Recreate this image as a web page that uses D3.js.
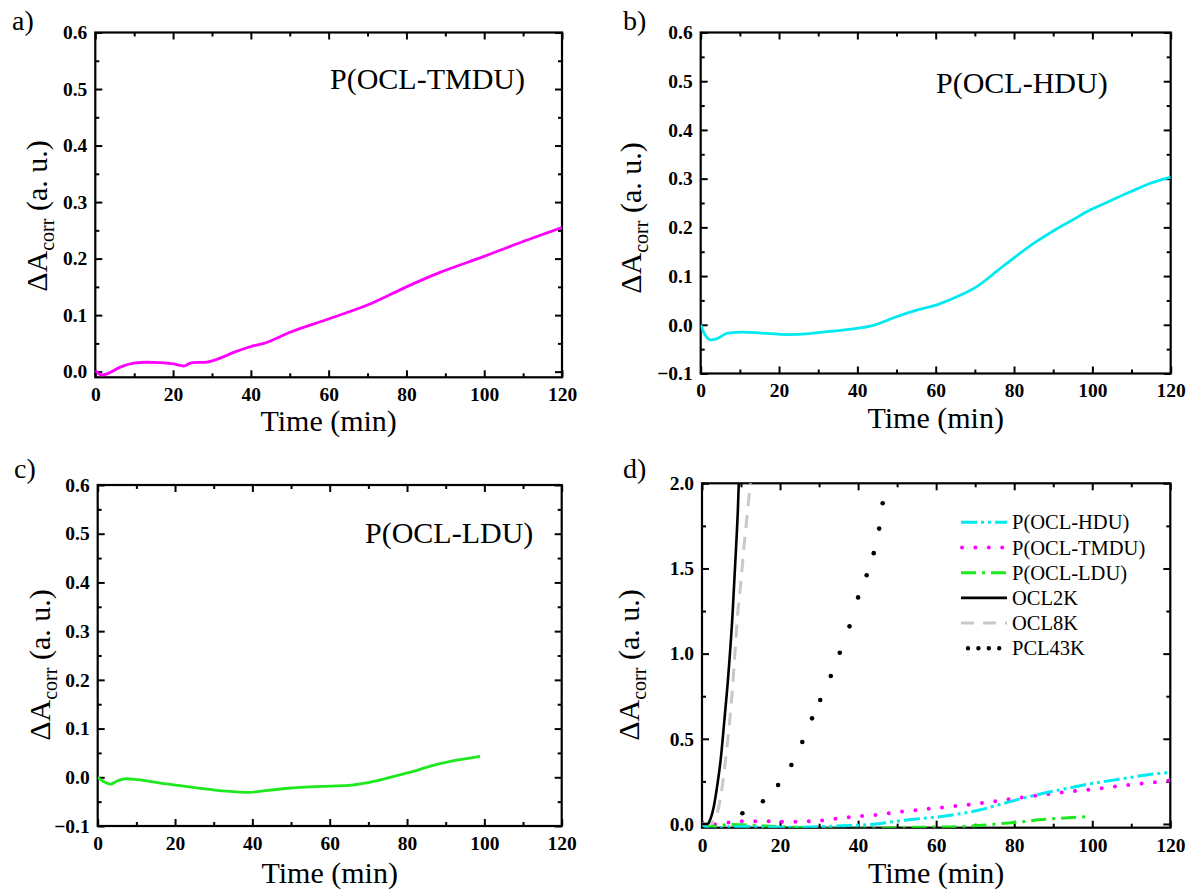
<!DOCTYPE html>
<html>
<head>
<meta charset="utf-8">
<script src="https://cdn.jsdelivr.net/npm/d3@7"></script>
<style>
  html, body { margin: 0; padding: 0; background: #fff; }
  svg { display: block; }
  text { font-family: "Liberation Serif", "Times New Roman", serif; fill: #000; }
  .tick text { font-family: "Liberation Serif", "Times New Roman", serif; font-weight: 700; font-size: 19.5px; fill: #000; }
  .tick line { stroke: #000; stroke-width: 2; }
</style>
</head>
<body>
<svg id="fig" width="1188" height="890"></svg>
<script>
// ---- degradation kinetics: time (min) and corrected absorbance change (a. u.) ----
const timeTMDU = [0, 1.7, 3.0, 6.4, 9.9, 13.3, 16.7, 20.1, 22.7, 24.9, 28.7, 32.1, 35.6, 39.8, 43.3, 50.4, 60.3, 71.1, 80.0, 88.8, 99.6, 109.5, 120];
const dATMDU   = [0.002, -0.006, -0.004, 0.008, 0.015, 0.0166, 0.016, 0.0136, 0.010, 0.016, 0.017, 0.024, 0.034, 0.044, 0.050, 0.0707, 0.094, 0.121, 0.150, 0.176, 0.203, 0.229, 0.255];

const timeHDU = [0, 1.1, 2.6, 4.0, 6.9, 10.7, 15.5, 22.1, 27.9, 33.6, 40.3, 44.6, 49.8, 55.6, 60.3, 66.1, 70.8, 75.6, 80.4, 85.2, 89.9, 94.7, 99.5, 104.2, 110, 114.7, 120];
const dAHDU   = [0, -0.0205, -0.031, -0.029, -0.017, -0.015, -0.017, -0.020, -0.018, -0.013, -0.007, 0, 0.016, 0.031, 0.041, 0.060, 0.080, 0.110, 0.140, 0.168, 0.192, 0.214, 0.236, 0.253, 0.274, 0.290, 0.303];

const timeLDU = [0, 1.4, 3.4, 4.9, 7.3, 10.3, 16.2, 22.2, 29.1, 34.1, 39.0, 44.0, 49.9, 53.9, 59.8, 65.7, 71.7, 76.6, 81.6, 86.5, 91.5, 98.9];
const dALDU   = [0, -0.008, -0.014, -0.008, -0.003, -0.005, -0.012, -0.018, -0.025, -0.029, -0.031, -0.027, -0.022, -0.020, -0.018, -0.016, -0.008, 0.002, 0.012, 0.024, 0.033, 0.043];

const timeOCL2K = [0, 1.5, 2, 3, 4, 4.8, 5.7, 6.7, 7.8, 8.7, 9.2, 9.5];
const dAOCL2K   = [0, 0, 0.02, 0.10, 0.24, 0.38, 0.60, 0.86, 1.22, 1.61, 1.85, 2.05];

const timeOCL8K = [0, 2, 3, 4.3, 5.3, 6.3, 7.2, 8.2, 9.1, 10.0, 10.7, 11.6, 12.4, 12.7];
const dAOCL8K   = [0, 0, 0.02, 0.10, 0.24, 0.43, 0.63, 0.92, 1.22, 1.43, 1.61, 1.82, 2.0, 2.06];

const timePCL43K = [10.35, 15.6, 19.5, 22.9, 25.7, 28.2, 30.3, 33.0, 35.3, 37.8, 40.0, 42.2, 44.0, 45.4, 46.3];
const dAPCL43K   = [0.063, 0.133, 0.229, 0.346, 0.481, 0.620, 0.728, 0.869, 1.005, 1.160, 1.330, 1.460, 1.590, 1.734, 1.883];

// ---- axis ticks ----
const timeTicks = [0, 20, 40, 60, 80, 100, 120];
const timeMinorTicks = [10, 30, 50, 70, 90, 110];
const smallYTicks = [-0.1, 0.0, 0.1, 0.2, 0.3, 0.4, 0.5, 0.6];
const smallYMinor = [-0.05, 0.05, 0.15, 0.25, 0.35, 0.45, 0.55];
const bigYTicks = [0.0, 0.5, 1.0, 1.5, 2.0];
const bigYMinor = [0.25, 0.75, 1.25, 1.75];

const zip = (xs, ys) => xs.map((t, i) => [t, ys[i]]);

const series = {
  TMDU: zip(timeTMDU, dATMDU),
  HDU: zip(timeHDU, dAHDU),
  LDU: zip(timeLDU, dALDU),
  OCL2K: zip(timeOCL2K, dAOCL2K),
  OCL8K: zip(timeOCL8K, dAOCL8K),
  PCL43K: zip(timePCL43K, dAPCL43K)
};

const colors = { TMDU: "#ff00ff", HDU: "#00eaf0", LDU: "#1ee81e", OCL2K: "#000000", OCL8K: "#c8c8c8", PCL43K: "#000000" };

const svg = d3.select("#fig");

// panel frames (pixel layout)
const panels = [
  { id: "a", left: 95.3, right: 562, top: 32.5, bottom: 377.3, yDomain: [-0.01, 0.6], yTicks: smallYTicks.filter(v => v >= 0), yMinor: smallYMinor.filter(v => v > 0),
    tag: "a)", tagX: 12, tagY: 30, yTitleX: 47, yTitleY: 216, xTitleY: 431, note: "P(OCL-TMDU)", noteX: 330, noteY: 89 },
  { id: "b", left: 700.7, right: 1170.7, top: 32.5, bottom: 373.5, yDomain: [-0.1, 0.6], yTicks: smallYTicks, yMinor: smallYMinor,
    tag: "b)", tagX: 623, tagY: 30, yTitleX: 641, yTitleY: 218, xTitleY: 428, note: "P(OCL-HDU)", noteX: 936, noteY: 93 },
  { id: "c", left: 97.7, right: 561.7, top: 485, bottom: 826, yDomain: [-0.1, 0.6], yTicks: smallYTicks, yMinor: smallYMinor,
    tag: "c)", tagX: 14, tagY: 478, yTitleX: 50, yTitleY: 665, xTitleY: 883, note: "P(OCL-LDU)", noteX: 365, noteY: 543 },
  { id: "d", left: 702, right: 1170.3, top: 483.3, bottom: 827.7, yDomain: [-0.022, 2.0], yTicks: bigYTicks, yMinor: bigYMinor,
    tag: "d)", tagX: 623, tagY: 478, yTitleX: 639, yTitleY: 665, xTitleY: 883 }
];

function tickOnly(g, axis) {
  g.call(axis).call(s => s.select(".domain").remove());
}

function setupPanel(p) {
  const g = svg.append("g").attr("class", "panel-" + p.id);
  const x = d3.scaleLinear().domain([0, 120]).range([p.left, p.right]);
  const y = d3.scaleLinear().domain(p.yDomain).range([p.bottom, p.top]);

  // clip region for the data
  svg.append("clipPath").attr("id", "clip-" + p.id)
    .append("rect").attr("x", p.left).attr("y", p.top)
    .attr("width", p.right - p.left).attr("height", p.bottom - p.top);

  const fmt = d3.format(".1f");

  // bottom axis: major labelled + minor inward ticks
  tickOnly(g.append("g").attr("transform", `translate(0,${p.bottom})`),
    d3.axisBottom(x).tickValues(timeTicks).tickSize(-7).tickPadding(10).tickFormat(d3.format("d")));
  tickOnly(g.append("g").attr("transform", `translate(0,${p.bottom})`),
    d3.axisBottom(x).tickValues(timeMinorTicks).tickSize(-4).tickFormat(""));

  // top axis (ticks only)
  tickOnly(g.append("g").attr("transform", `translate(0,${p.top})`),
    d3.axisTop(x).tickValues(timeTicks).tickSize(-7).tickFormat(""));
  tickOnly(g.append("g").attr("transform", `translate(0,${p.top})`),
    d3.axisTop(x).tickValues(timeMinorTicks).tickSize(-4).tickFormat(""));

  // left axis
  tickOnly(g.append("g").attr("transform", `translate(${p.left},0)`),
    d3.axisLeft(y).tickValues(p.yTicks).tickSize(-7).tickPadding(8).tickFormat(fmt));
  tickOnly(g.append("g").attr("transform", `translate(${p.left},0)`),
    d3.axisLeft(y).tickValues(p.yMinor).tickSize(-4).tickFormat(""));

  // right axis (ticks only)
  tickOnly(g.append("g").attr("transform", `translate(${p.right},0)`),
    d3.axisRight(y).tickValues(p.yTicks).tickSize(-7).tickFormat(""));
  tickOnly(g.append("g").attr("transform", `translate(${p.right},0)`),
    d3.axisRight(y).tickValues(p.yMinor).tickSize(-4).tickFormat(""));

  g.selectAll(".tick text").attr("font-weight", 700);

  // frame
  g.append("rect").attr("x", p.left).attr("y", p.top)
    .attr("width", p.right - p.left).attr("height", p.bottom - p.top)
    .attr("fill", "none").attr("stroke", "#000").attr("stroke-width", 2.2);

  // panel tag
  g.append("text").attr("x", p.tagX).attr("y", p.tagY)
    .attr("font-size", 28).text(p.tag);

  // axis titles
  g.append("text").attr("x", (p.left + p.right) / 2).attr("y", p.xTitleY)
    .attr("text-anchor", "middle").attr("font-size", 30).text("Time (min)");

  const yt = g.append("text")
    .attr("transform", `translate(${p.yTitleX},${p.yTitleY}) rotate(-90)`)
    .attr("text-anchor", "middle").attr("font-size", 30);
  yt.append("tspan").text("ΔA");
  yt.append("tspan").attr("font-size", 20).attr("dy", 7).text("corr");
  yt.append("tspan").attr("dy", -7).text(" (a. u.)");

  if (p.note) {
    g.append("text").attr("x", p.noteX).attr("y", p.noteY)
      .attr("font-size", 30).text(p.note);
  }
  return { g, x, y };
}

function drawLine(ctx, id, data, color, width, dash, cap) {
  const line = d3.line().x(d => ctx.x(d[0])).y(d => ctx.y(d[1])).curve(d3.curveMonotoneX);
  ctx.g.append("path")
    .datum(data)
    .attr("clip-path", `url(#clip-${id})`)
    .attr("d", line)
    .attr("fill", "none")
    .attr("stroke", color)
    .attr("stroke-width", width)
    .attr("stroke-dasharray", dash || null)
    .attr("stroke-linecap", cap || "butt")
    .attr("stroke-linejoin", "round");
}

// a) P(OCL-TMDU)
const pa = setupPanel(panels[0]);
drawLine(pa, "a", series.TMDU, colors.TMDU, 2.8);

// b) P(OCL-HDU)
const pb = setupPanel(panels[1]);
drawLine(pb, "b", series.HDU, colors.HDU, 2.8);

// c) P(OCL-LDU)
const pc = setupPanel(panels[2]);
drawLine(pc, "c", series.LDU, colors.LDU, 2.8);

// d) comparison with OCL and PCL homopolymers
const pd = setupPanel(panels[3]);
const styleD = {
  HDU:   { color: colors.HDU,   width: 3, dash: "16 4 3 4 3 4", cap: "butt" },
  TMDU:  { color: colors.TMDU,  width: 4, dash: "0 13.4", cap: "round" },
  LDU:   { color: colors.LDU,   width: 3, dash: "15 6 3 6", cap: "butt" },
  OCL2K: { color: colors.OCL2K, width: 2.6, dash: null, cap: "butt" },
  OCL8K: { color: colors.OCL8K, width: 3, dash: "13 9", cap: "butt" }
};
["TMDU", "LDU", "HDU", "OCL8K", "OCL2K"].forEach(k => {
  const s = styleD[k];
  drawLine(pd, "d", series[k], s.color, s.width, s.dash, s.cap);
});
pd.g.append("g").attr("clip-path", "url(#clip-d)")
  .selectAll("circle").data(series.PCL43K).join("circle")
  .attr("cx", d => pd.x(d[0])).attr("cy", d => pd.y(d[1]))
  .attr("r", 2.3).attr("fill", colors.PCL43K);

// legend of panel d
const legendItems = [
  { key: "HDU", label: "P(OCL-HDU)" },
  { key: "TMDU", label: "P(OCL-TMDU)" },
  { key: "LDU", label: "P(OCL-LDU)" },
  { key: "OCL2K", label: "OCL2K" },
  { key: "OCL8K", label: "OCL8K" },
  { key: "PCL43K", label: "PCL43K" }
];
const legend = pd.g.append("g").attr("transform", "translate(961,522.3)");
legendItems.forEach((it, i) => {
  const row = legend.append("g").attr("transform", `translate(0,${i * 25.2})`);
  if (it.key === "PCL43K") {
    row.append("line").attr("x1", 7).attr("x2", 39).attr("y1", 0).attr("y2", 0)
      .attr("stroke", "#000").attr("stroke-width", 4.4)
      .attr("stroke-linecap", "round").attr("stroke-dasharray", "0 10.4");
  } else {
    const s = styleD[it.key];
    row.append("line").attr("x1", it.key === "TMDU" ? 1 : 0).attr("x2", 46).attr("y1", 0).attr("y2", 0)
      .attr("stroke", s.color).attr("stroke-width", s.width)
      .attr("stroke-linecap", s.cap).attr("stroke-dasharray", s.dash);
  }
  row.append("text").attr("x", 51).attr("y", 7).attr("font-size", 20.5).text(it.label);
});
</script>
</body>
</html>
